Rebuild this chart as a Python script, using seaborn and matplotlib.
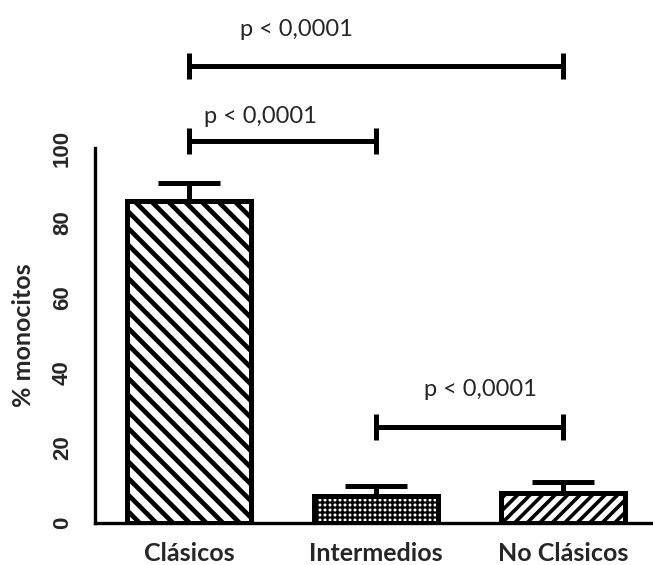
import matplotlib
matplotlib.use("Agg")
import matplotlib.pyplot as plt
import matplotlib.backend_bases as mbb
from matplotlib.path import Path
import seaborn as sns
import pandas as pd

# ---- data ----
categories = ["Clásicos", "Intermedios", "No Clásicos"]
means = [85.9, 7.3, 7.9]
errors = [4.8, 2.7, 3.0]
y_ticks = [0, 20, 40, 60, 80, 100]
y_label = "% monocitos"
comparisons = [("Clásicos", "No Clásicos"), ("Clásicos", "Intermedios"), ("Intermedios", "No Clásicos")]
comparison_heights = [121.9, 101.9, 25.6]
comparison_labels = ["p < 0,0001", "p < 0,0001", "p < 0,0001"]

# ---- styling: hatch density tweak ----
def _hatch_path(self, density=6.0):
    h = self.get_hatch()
    if h is None:
        return None
    return Path.hatch(h, 2)
mbb.GraphicsContextBase.get_hatch_path = _hatch_path

sns.set_style("white")
plt.rcParams["font.family"] = ["Lato", "DejaVu Sans"]

fig = plt.figure(figsize=(6.53, 5.65), dpi=100)
ax = fig.add_axes([95 / 653, 42 / 565, 558 / 653, 375 / 565])

df = pd.DataFrame({"cat": categories, "val": means})
sns.barplot(data=df, x="cat", y="val", ax=ax, color="white", edgecolor="black",
            linewidth=3.6, width=0.665, errorbar=None, saturation=1, zorder=3)

hatches = ["\\" * 6, "+" * 10, "/" * 8]
hatch_lw = [3.4, 1.6, 2.6]
for p, h, lw in zip(ax.patches, hatches, hatch_lw):
    p.set_hatch(h)
    p.set_facecolor("white")
    p.set_edgecolor("black")
    if hasattr(p, "set_hatch_linewidth"):
        p.set_hatch_linewidth(lw)

xs = list(range(len(categories)))
eb = ax.errorbar(xs, means, yerr=[[0] * len(errors), errors], fmt="none",
                 ecolor="black", elinewidth=3.6, capsize=22, capthick=3.6, zorder=2)
eb[1][0].set_visible(False)

ax.set_xlim(-0.503, 2.481)
ax.set_ylim(0, 100)
ax.set_yticks(y_ticks)
ax.set_xlabel("")
ax.set_ylabel(y_label, fontsize=18, fontweight="bold", labelpad=12)

for s in ["top", "right"]:
    ax.spines[s].set_visible(False)
for s in ["left", "bottom"]:
    ax.spines[s].set_linewidth(2.4)
    ax.spines[s].set_color("black")
ax.spines["left"].set_bounds(0, 100)

ax.tick_params(axis="both", direction="out", length=5, width=2.4, color="black")
ax.tick_params(axis="x", pad=9)
ax.tick_params(axis="y", pad=11)
for t in ax.get_xticklabels():
    t.set_fontsize(18)
    t.set_fontweight("bold")
for t in ax.get_yticklabels():
    t.set_fontfamily(["Liberation Sans", "DejaVu Sans"])
    t.set_fontsize(16)
    t.set_fontweight("bold")
    t.set_rotation(90)
    t.set_va("center")

# significance brackets
text_x = [0.572, 0.38, 1.556]
text_dy = [9.6, 6.6, 10.1]
for (a, b), h, lab, tx, dy in zip(comparisons, comparison_heights, comparison_labels, text_x, text_dy):
    x0, x1 = categories.index(a), categories.index(b)
    ax.plot([x0, x1], [h, h], color="black", lw=3.6, clip_on=False, solid_capstyle="butt")
    for xe in (x0, x1):
        ax.plot([xe, xe], [h - 3.5, h + 3.5], color="black", lw=3.6, clip_on=False,
                solid_capstyle="butt")
    ax.text(tx, h + dy, lab, ha="center", va="center", fontsize=17, clip_on=False)

fig.savefig("out.png", dpi=100)
